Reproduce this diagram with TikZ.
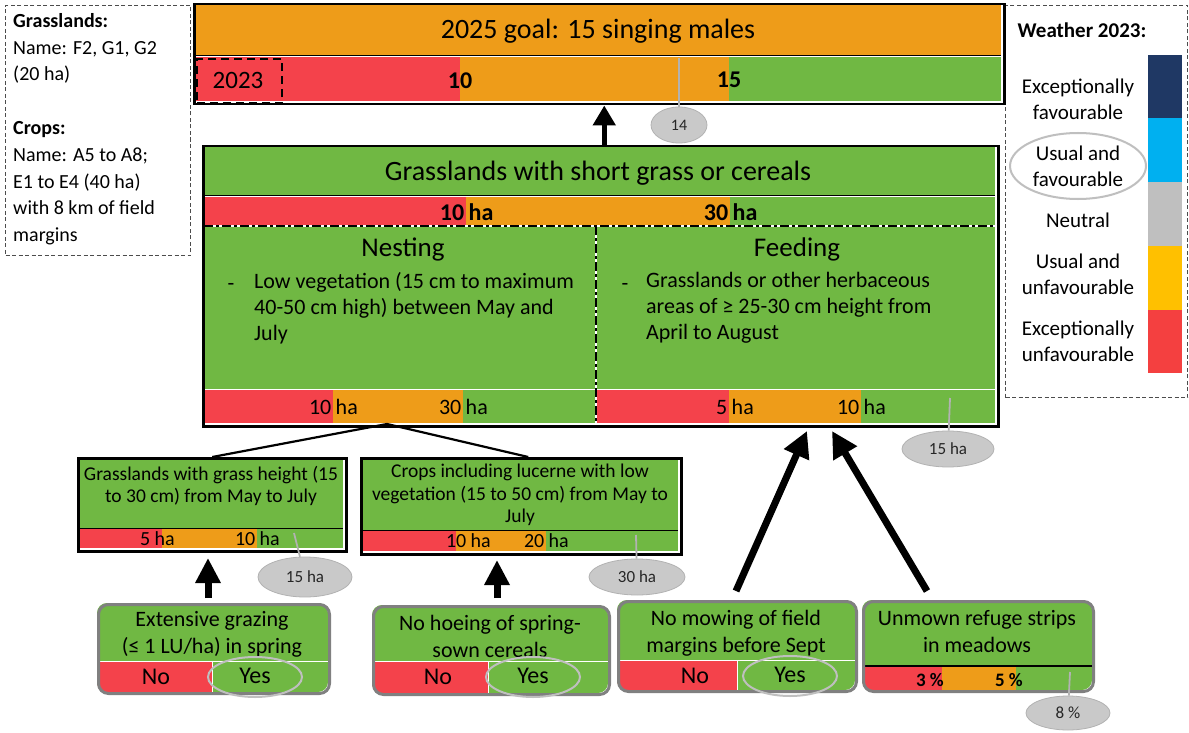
\documentclass[tikz,border=0pt]{standalone}
\usepackage{fontspec}
\setmainfont{Carlito}
\usetikzlibrary{arrows.meta,shapes.geometric}
\definecolor{cred}{HTML}{F4424B}
\definecolor{corg}{HTML}{EE9C19}
\definecolor{cgrn}{HTML}{70B843}
\definecolor{cell}{HTML}{C9C9C9}
\definecolor{legnavy}{HTML}{1F3864}
\definecolor{legcyan}{HTML}{00B0F0}
\definecolor{leggrey}{HTML}{BFBFBF}
\definecolor{legyel}{HTML}{FFC000}
\definecolor{legred}{HTML}{F44040}
\newcommand\fs[2]{\fontsize{#1}{#2}\selectfont}
\newcommand\blab[6]{%
  \node[anchor=base east, inner sep=0pt, font=#6] (#1n) at (#2-1.5,#3) {#4};
  \node[anchor=base west, inner sep=0pt, font=#6] (#1u) at (#2+2.5,#3) {#5};}
\begin{document}
\begin{tikzpicture}[x=1pt,y=-1pt,
  txt/.style={inner sep=0pt, align=center},
  frame/.style={draw=black, line width=2.5pt, inner sep=0pt, anchor=north west},
  dashframe/.style={draw=black!70, dash pattern=on 4pt off 2.5pt, line width=1pt, inner sep=0pt, anchor=north west},
  rbox/.style={draw=black!50, line width=3pt, rounded corners=10pt, inner sep=0pt, anchor=north west},
  ell/.style={ellipse, draw=black!30, fill=cell, line width=0.8pt, inner sep=0pt, text=black!85},
  yesell/.style={ellipse, draw=black!25, line width=2pt, inner sep=0pt},
  greyline/.style={draw=black!30, line width=1.8pt},
  dashdot/.style={draw=black, line width=2pt, dash pattern=on 9pt off 3pt on 3pt off 3pt},
  topArr/.style={line width=5pt, -{Triangle[length=20pt,width=22pt]}},
  shortArr/.style={line width=7pt, -{Triangle[length=25pt,width=24pt]}},
  longArr/.style={line width=7pt, -{Triangle[length=26pt,width=26pt]}},
  conn/.style={draw=black, line width=2.2pt}
]
\useasboundingbox[fill=white] (0,0) rectangle (1189,733);

% ---------- left info box ----------
\node[dashframe, minimum width=185pt, minimum height=250pt] (info) at (5,5) {};
\node[anchor=north west, inner sep=0pt, align=left, font=\fs{20}{26.8}] (infotxt) at (13,13) {%
  \textbf{Grasslands:}\\Name: F2, G1, G2\\(20 ha)\\[26.8pt]\textbf{Crops:}\\Name: A5 to A8;\\E1 to E4 (40 ha)\\with 8 km of field\\margins};

% ---------- legend ----------
\node[dashframe, minimum width=182pt, minimum height=392pt] (legend) at (1005,5) {};
\fill[legnavy] (1148,55) rectangle (1182,118);
\fill[legcyan] (1148,118) rectangle (1182,182);
\fill[leggrey] (1148,182) rectangle (1182,246);
\fill[legyel] (1148,246) rectangle (1182,310);
\fill[legred] (1148,310) rectangle (1182,373);
\node[txt, font=\fs{21}{25}\bfseries] (lw) at (1082,30) {Weather 2023:};
\node[txt, font=\fs{21}{26}] (l1) at (1078,99) {Exceptionally\\favourable};
\node[txt, font=\fs{21}{26}] (l2) at (1078,166) {Usual and\\favourable};
\node[txt, font=\fs{21}{26}] (l3) at (1078,220) {Neutral};
\node[txt, font=\fs{21}{26}] (l4) at (1078,274) {Usual and\\unfavourable};
\node[txt, font=\fs{21}{26}] (l5) at (1078,341) {Exceptionally\\unfavourable};
\node[yesell, minimum width=136pt, minimum height=66pt] (l2e) at (1078,166) {};

% ---------- goal box ----------
\fill[corg] (195,5) rectangle (1001,55);
\fill[cred] (195,57) rectangle (460,101);
\fill[corg] (460,57) rectangle (729,101);
\fill[cgrn] (729,57) rectangle (1001,101);
\draw[black, line width=0.8pt] (195,55) -- (1001,55);
\draw[white, line width=1.2pt] (195,56.4) -- (1001,56.4);
\node[frame, minimum width=810pt, minimum height=100pt] (goal) at (193,3) {};
\node[txt, font=\fs{28}{32}] (goaltitle) at (598,31) {2025 goal: 15 singing males};
\node[txt, font=\fs{24}{28}\bfseries] (g10) at (460,81) {10};
\node[txt, font=\fs{24}{28}\bfseries] (g15) at (729,80) {15};
\node[draw, line width=2.2pt, dash pattern=on 8pt off 5pt, minimum width=85pt, minimum height=44pt, anchor=north west, inner sep=0pt] (box2023) at (196,58) {};
\node[txt, font=\fs{25}{28}] (t2023) at (238,80) {2023};
\coordinate (m14) at (679,58);
\node[ell, minimum width=56pt, minimum height=36pt, font=\fs{16}{18}] (e14) at (679,125) {14};
\draw[greyline] (m14) -- (e14);

% ---------- main box ----------
\fill[cgrn] (204,147) rectangle (995,196);
\fill[cred] (204,197) rectangle (466,225);
\fill[corg] (466,197) rectangle (730,225);
\fill[cgrn] (730,197) rectangle (995,225);
\draw[black, line width=0.8pt] (204,195.5) -- (995,195.5);
\draw[white, line width=1pt] (204,196.7) -- (995,196.7);
\fill[cgrn] (204,226) rectangle (995,389);
\fill[cred] (204,390) rectangle (333,423);
\fill[corg] (333,390) rectangle (463,423);
\fill[cgrn] (463,390) rectangle (595,423);
\fill[cred] (597,390) rectangle (729,423);
\fill[corg] (729,390) rectangle (861,423);
\fill[cgrn] (861,390) rectangle (995,423);
\draw[white, line width=1pt] (204,389.5) -- (995,389.5);
\draw[white, line width=2pt] (204,226) -- (995,226);
\draw[dashdot] (204,226) -- (995,226);
\draw[white, line width=2pt] (596,226) -- (596,423);
\draw[dashdot] (596,226) -- (596,423);
\node[frame, minimum width=795pt, minimum height=280pt] (main) at (202,145) {};
\node[txt, font=\fs{28}{32}] (maintitle) at (598,173) {Grasslands with short grass or cereals};
\blab{mb10}{466}{220}{10}{ha}{\fs{24}{28}\bfseries}
\blab{mb30}{730}{220}{30}{ha}{\fs{24}{28}\bfseries}
\node[txt, font=\fs{27}{30}] (nest) at (403,249) {Nesting};
\node[txt, font=\fs{27}{30}] (feed) at (797,249) {Feeding};
\node[anchor=base, inner sep=0pt, font=\fs{22}{26}] (nestdash) at (231,290) {-};
\node[anchor=north west, inner sep=0pt, align=left, font=\fs{22}{26}] (nesttxt) at (254,272) {Low vegetation (15 cm to maximum\\40-50 cm high) between May and\\July};
\node[anchor=base, inner sep=0pt, font=\fs{22}{26}] (feeddash) at (625,290) {-};
\node[anchor=north west, inner sep=0pt, align=left, font=\fs{22}{26}] (feedtxt) at (646,272) {Grasslands or other herbaceous\\areas of ≥ 25-30 cm height from\\April to August};
\blab{nb10}{333}{414}{10}{ha}{\fs{22}{26}}
\blab{nb30}{463}{414}{30}{ha}{\fs{22}{26}}
\blab{fb5}{729}{414}{5}{ha}{\fs{22}{26}}
\blab{fb10}{861}{414}{10}{ha}{\fs{22}{26}}
\coordinate (m15a) at (950,398);
\node[ell, minimum width=92pt, minimum height=36pt, font=\fs{17}{20}] (e15a) at (948,449) {15 ha};
\draw[greyline] (m15a) -- (e15a);

% arrow main -> goal
\draw[topArr] ([xshift=3.5pt]main.north) -- ([xshift=3.5pt]main.north |- goal.south);

% ---------- sub box 1 ----------
\fill[cgrn] (79,459) rectangle (343,528);
\fill[cred] (79,529) rectangle (162,548);
\fill[corg] (162,529) rectangle (257,548);
\fill[cgrn] (257,529) rectangle (343,548);
\draw[black, line width=1.5pt] (79,528.5) -- (343,528.5);
\node[frame, minimum width=268pt, minimum height=93pt] (sub1) at (77,457) {};
\node[txt, font=\fs{19.5}{21.5}] (sub1t) at (211,486) {Grasslands with grass height (15\\to 30 cm) from May to July};
\blab{s1b5}{152}{545}{5}{ha}{\fs{20}{24}}
\blab{s1b10}{257}{545}{10}{ha}{\fs{20}{24}}
\coordinate (m15b) at (294,533);
\node[ell, minimum width=94pt, minimum height=40pt, font=\fs{17}{20}] (e15b) at (305,577) {15 ha};
\draw[greyline] (m15b) -- (e15b);

% ---------- sub box 2 ----------
\fill[cgrn] (362,459) rectangle (678,530);
\fill[cred] (362,531) rectangle (456,551);
\fill[corg] (456,531) rectangle (546,551);
\fill[cgrn] (546,531) rectangle (678,551);
\draw[black, line width=1.5pt] (362,530.5) -- (678,530.5);
\node[frame, minimum width=320pt, minimum height=96pt] (sub2) at (360,457) {};
\node[txt, font=\fs{19.5}{22.5}] (sub2t) at (520,495) {Crops including lucerne with low\\vegetation (15 to 50 cm) from May to\\July};
\blab{s2b10}{468}{547}{10}{ha}{\fs{20}{24}}
\blab{s2b20}{546}{547}{20}{ha}{\fs{20}{24}}
\coordinate (m30) at (636,535);
\node[ell, minimum width=96pt, minimum height=36pt, font=\fs{17}{20}] (e30) at (637,577) {30 ha};
\draw[greyline] (m30) -- (e30);

% connectors main -> sub boxes
\coordinate (split) at (387,424);
\draw[conn] (split) -- (sub1.north);
\draw[conn] (split) -- ([xshift=7pt]sub2.north);

% ---------- bottom box 1 ----------
\fill[cgrn, rounded corners=10pt] (97,603) rectangle (328,692);
\begin{scope}
  \clip[rounded corners=10pt] (97,603) rectangle (328,692);
  \fill[cred] (97,662) rectangle (212,692);
  \draw[white, line width=1pt] (97,661.5) -- (328,661.5);
  \draw[white, line width=1pt] (212.5,662) -- (212.5,692);
\end{scope}
\node[rbox, minimum width=231pt, minimum height=89pt] (b1) at (97,603) {};
\node[txt, font=\fs{22}{27}] (b1t) at (212,634) {Extensive grazing\\(≤ 1 LU/ha) in spring};
\node[txt, font=\fs{24}{26}] (b1no) at (156,677) {No};
\node[txt, font=\fs{24}{26}] (b1yes) at (255,676) {Yes};
\node[yesell, minimum width=94pt, minimum height=40pt] (b1e) at (255,677) {};

% ---------- bottom box 2 ----------
\fill[cgrn, rounded corners=10pt] (372,605) rectangle (608,693);
\begin{scope}
  \clip[rounded corners=10pt] (372,605) rectangle (608,693);
  \fill[cred] (372,662) rectangle (488,693);
  \draw[white, line width=1pt] (372,661.5) -- (608,661.5);
  \draw[white, line width=1pt] (488.5,662) -- (488.5,693);
\end{scope}
\node[rbox, minimum width=236pt, minimum height=88pt] (b2) at (372,605) {};
\node[txt, font=\fs{22}{27}] (b2t) at (490,636) {No hoeing of spring-\\sown cereals};
\node[txt, font=\fs{24}{26}] (b2no) at (438,677) {No};
\node[txt, font=\fs{24}{26}] (b2yes) at (533,676) {Yes};
\node[yesell, minimum width=94pt, minimum height=40pt] (b2e) at (533,677) {};

% ---------- bottom box 3 ----------
\fill[cgrn, rounded corners=10pt] (617,600) rectangle (855,690);
\begin{scope}
  \clip[rounded corners=10pt] (617,600) rectangle (855,690);
  \fill[cred] (617,661) rectangle (737,690);
  \draw[white, line width=1pt] (617,660.5) -- (855,660.5);
  \draw[white, line width=1pt] (737.5,661) -- (737.5,690);
\end{scope}
\node[rbox, minimum width=238pt, minimum height=90pt] (b3) at (617,600) {};
\node[txt, font=\fs{22}{27}] (b3t) at (736,633) {No mowing of field\\margins before Sept};
\node[txt, font=\fs{24}{26}] (b3no) at (695,676) {No};
\node[txt, font=\fs{24}{26}] (b3yes) at (790,675) {Yes};
\node[yesell, minimum width=94pt, minimum height=40pt] (b3e) at (790,676) {};

% ---------- bottom box 4 ----------
\fill[cgrn, rounded corners=10pt] (862,600) rectangle (1092,690);
\begin{scope}
  \clip[rounded corners=10pt] (862,600) rectangle (1092,690);
  \fill[cred] (862,667) rectangle (942,690);
  \fill[corg] (942,667) rectangle (1016,690);
  \draw[black, line width=1.5pt] (862,666) -- (1092,666);
\end{scope}
\node[rbox, minimum width=230pt, minimum height=90pt] (b4) at (862,600) {};
\node[txt, font=\fs{22}{27}] (b4t) at (977,632) {Unmown refuge strips\\in meadows};
\node[anchor=base east, inner sep=0pt, font=\fs{19}{22}\bfseries] (b4p3) at (944,686) {3 \%};
\node[anchor=base east, inner sep=0pt, font=\fs{19}{22}\bfseries] (b4p5) at (1023,686) {5 \%};
\coordinate (m8) at (1070,672);
\node[ell, minimum width=84pt, minimum height=34pt, font=\fs{17}{20}] (e8) at (1068,713) {8 \%};
\draw[greyline] (m8) -- (e8);

% ---------- arrows from bottom boxes ----------
\coordinate (a1s) at (208,598);
\coordinate (a1e) at (208,558);
\coordinate (a2s) at (497,598);
\coordinate (a2e) at (497,560);
\draw[shortArr] (a1s) -- (a1e);
\draw[shortArr] (a2s) -- (a2e);
\coordinate (a3s) at (736,591);
\coordinate (a3e) at (807,431);
\coordinate (a4s) at (927,591);
\coordinate (a4e) at (832,431);
\draw[longArr] (a3s) -- (a3e);
\draw[longArr] (a4s) -- (a4e);
\end{tikzpicture}
\end{document}
